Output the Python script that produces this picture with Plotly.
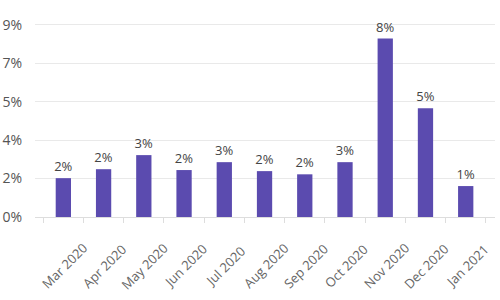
import plotly.graph_objects as go

months = ["Mar 2020", "Apr 2020", "May 2020", "Jun 2020", "Jul 2020", "Aug 2020",
          "Sep 2020", "Oct 2020", "Nov 2020", "Dec 2020", "Jan 2021"]
rates = [0.0182, 0.0224, 0.0290, 0.0220, 0.0257, 0.0215, 0.0200, 0.0257, 0.0836, 0.0510, 0.0145]

fig = go.Figure(go.Bar(
    x=months, y=rates,
    marker=dict(color="#5b4baf", line=dict(width=0)),
    texttemplate="%{y:.0%}", textposition="outside",
    textfont=dict(family="Open Sans", size=13, color="#444444"),
    constraintext="none",
    cliponaxis=False,
))

# rotated category labels, centred under each bar
for m in months:
    fig.add_annotation(
        x=m, y=0, xref="x", yref="y", text=m, showarrow=False,
        textangle=-45, yshift=-49, xshift=1,
        font=dict(family="Open Sans", size=13, color="#666666"),
    )

fig.update_layout(
    width=500, height=300,
    margin=dict(l=35, r=5, t=10, b=83, autoexpand=False),
    paper_bgcolor="white", plot_bgcolor="white",
    bargap=0.62,
    showlegend=False,
    font=dict(family="Open Sans", color="#555555"),
)
fig.update_yaxes(
    range=[0, 0.097], dtick=0.018, tickformat=".0%",
    showgrid=True, gridcolor="#e9e9e9", gridwidth=1,
    zeroline=False, showline=False, automargin=False,
    tickfont=dict(size=14, color="#555555"),
    ticklabelstandoff=12,
)
fig.update_xaxes(
    showticklabels=False, automargin=False,
    showline=True, linecolor="#dddddd", linewidth=1,
    ticks="outside", tickson="boundaries", ticklen=5, tickcolor="#dddddd",
)

fig.write_html("out.html")
